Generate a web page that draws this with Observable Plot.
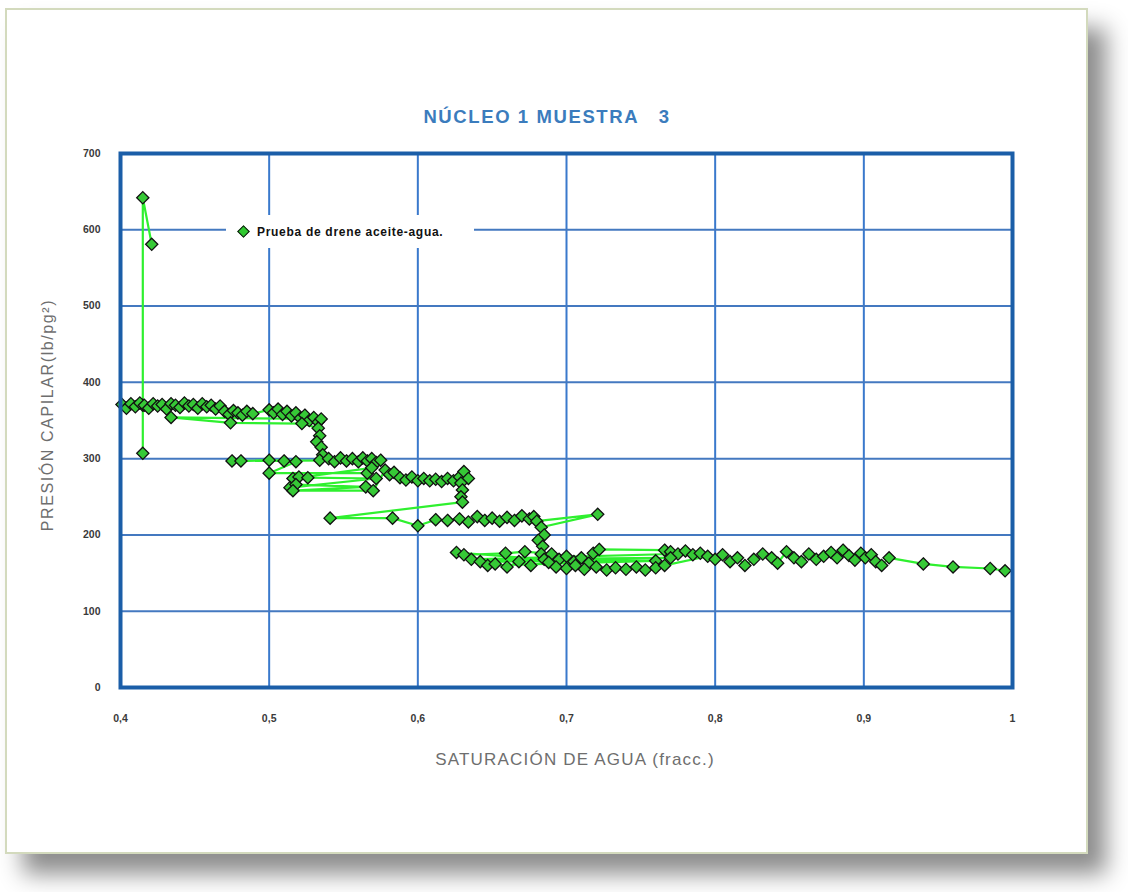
<!DOCTYPE html>
<html>
<head>
<meta charset="utf-8">
<script src="https://cdn.jsdelivr.net/npm/d3@7"></script>
<script src="https://cdn.jsdelivr.net/npm/@observablehq/plot@0.6"></script>
<style>
  html, body { margin:0; padding:0; background:#ffffff; }
  body { width:1128px; height:892px; position:relative; overflow:hidden; font-family:"Liberation Sans", Arial, sans-serif; }
  #card { position:absolute; left:5px; top:8px; width:1079px; height:842px; background:#fff;
          border:2px solid #d3dabd; box-shadow: 18px 20px 22px rgba(0,0,0,0.45); }
  #chart { position:absolute; left:0; top:0; }
  .title { position:absolute; left:0; width:1094px; top:106px; text-align:center; font-weight:bold;
           font-size:18.5px; color:#3b7cbd; letter-spacing:1.6px; white-space:pre; }
  .xlabel { position:absolute; left:0; width:1150px; top:750px; text-align:center; font-size:17px; color:#6e6e6e; letter-spacing:1.2px; }
  .ylabel { position:absolute; left:48px; top:415px; transform:translate(-50%,-50%) rotate(-90deg);
            font-size:16px; color:#6e6e6e; white-space:nowrap; letter-spacing:1.6px; }
  .legend { position:absolute; left:226px; top:215px; width:248px; height:33px; background:#fff;
            display:flex; align-items:center; font-size:12px; font-weight:bold; color:#111; letter-spacing:0.7px; white-space:nowrap; }
  .legend .sym { width:7px; height:7px; background:#2fc92f; border:1.4px solid #111; transform:rotate(45deg);
                 margin-left:13px; margin-right:9px; flex:none; }
</style>
</head>
<body>
<div id="card"></div>
<div id="chart"></div>
<div class="title">NÚCLEO 1 MUESTRA   3</div>
<div class="xlabel">SATURACIÓN DE AGUA (fracc.)</div>
<div class="ylabel">PRESIÓN CAPILAR(lb/pg²)</div>
<div class="legend"><span class="sym"></span>Prueba de drene aceite-agua.</div>
<script>
// Water saturation (fraction) in measurement order
const sw = [
  0.421, 0.415, 0.415, 0.415, 0.401,
  0.404, 0.407, 0.410, 0.413, 0.416, 0.419, 0.422, 0.425, 0.428, 0.431, 0.434, 0.437, 0.440, 0.443, 0.446, 0.449, 0.452, 0.455, 0.458, 0.461, 0.464, 0.467,
  0.470, 0.473, 0.476, 0.479, 0.482, 0.485, 0.489,
  0.500, 0.503, 0.506, 0.509, 0.512, 0.515, 0.518, 0.521, 0.524, 0.527, 0.530, 0.533, 0.535,
  0.434, 0.474, 0.522, 0.533, 0.534, 0.532, 0.535, 0.536, 0.534,
  0.540, 0.544, 0.548, 0.552, 0.556, 0.560, 0.563, 0.566, 0.569, 0.572, 0.575,
  0.475, 0.481, 0.500, 0.510, 0.518, 0.500, 0.566, 0.569, 0.516, 0.520, 0.526, 0.572, 0.514, 0.518, 0.565, 0.516, 0.570,
  0.578, 0.581, 0.584, 0.588, 0.592, 0.596, 0.600, 0.604, 0.608, 0.612, 0.616, 0.620, 0.624, 0.628, 0.631, 0.634, 0.629, 0.630, 0.629, 0.630,
  0.541, 0.583, 0.600, 0.612, 0.620, 0.628, 0.634, 0.640, 0.645, 0.650, 0.655, 0.660, 0.665, 0.670, 0.675, 0.678, 0.680, 0.721, 0.683, 0.685, 0.681, 0.684, 0.683, 0.685,
  0.626, 0.631, 0.659, 0.672, 0.690, 0.695, 0.700, 0.705, 0.710, 0.715, 0.718, 0.722, 0.766, 0.770, 0.775, 0.780, 0.785, 0.790,
  0.636, 0.770, 0.642, 0.760,
  0.647, 0.652, 0.660, 0.668, 0.676, 0.688, 0.693, 0.700, 0.706, 0.712, 0.720, 0.727, 0.733, 0.740, 0.747, 0.753, 0.760, 0.766,
  0.795, 0.800, 0.805, 0.810, 0.815, 0.820, 0.826, 0.832, 0.838, 0.842, 0.848, 0.853, 0.858, 0.863, 0.868, 0.873, 0.878, 0.882, 0.886, 0.890, 0.894, 0.898, 0.901, 0.905, 0.908, 0.912, 0.917,
  0.940, 0.960, 0.985, 0.995
];
// Capillary pressure (lb/pg²) in the same order
const pc = [
  581, 642, 307, 370, 371,
  366, 372, 368, 373, 370, 366, 372, 369, 371, 365, 372, 370, 367, 373, 369, 371, 366, 372, 368, 370, 365, 369,
  362, 358, 363, 360, 357, 362, 359,
  364, 360, 365, 358, 362, 356, 360, 353, 357, 350, 354, 348, 352,
  354, 347, 346, 340, 330, 322, 315, 305, 298,
  300, 296, 301, 297, 300, 296, 301, 297, 300, 295, 298,
  297, 297, 298, 297, 296, 281, 281, 288, 274, 276, 275, 274, 262, 266, 263, 258, 258,
  285, 279, 282, 275, 272, 276, 271, 274, 271, 273, 270, 274, 271, 276, 283, 274, 268, 259, 250, 243,
  222, 222, 212, 220, 219, 221, 217, 224, 219, 222, 218, 223, 219, 225, 221, 224, 218, 227, 210, 200, 193, 185, 175, 168,
  177, 174, 176, 178, 175, 168, 172, 165, 170, 163, 176, 181, 180, 178, 175, 179, 174, 176,
  168, 170, 165, 166,
  160, 162, 158, 165, 160, 164, 158, 156, 160, 155, 158, 154, 157, 155, 158, 154, 157, 160,
  172, 168, 174, 165, 170, 160, 168, 175, 170, 163, 178, 170, 165, 175, 168, 172, 177, 170, 180, 173, 167, 176, 170, 174, 165, 160, 170,
  162, 158, 156, 153
];
const xTicks = [0.4, 0.5, 0.6, 0.7, 0.8, 0.9, 1];
const yTicks = [0, 100, 200, 300, 400, 500, 600, 700];
const xGrid = [0.5, 0.6, 0.7, 0.8, 0.9];
const yGrid = [100, 200, 300, 400, 500, 600];

const data = sw.map((s, i) => ({ sw: s, pc: pc[i] }));
const fmt = d => d === 1 ? "1" : String(d).replace(".", ",");

const chart = Plot.plot({
  width: 1128,
  height: 892,
  marginLeft: 120,
  marginRight: 116,
  marginTop: 153,
  marginBottom: 205,
  style: { background: "transparent", fontFamily: "Liberation Sans, Arial, sans-serif", fontSize: "10.5px", fontWeight: "bold", color: "#3a3a3a" },
  x: { domain: [0.4, 1], ticks: xTicks, tickFormat: fmt, tickSize: 0, tickPadding: 27, label: null },
  y: { domain: [0, 700], ticks: yTicks, tickSize: 0, tickPadding: 20, label: null },
  marks: [
    Plot.gridX(xGrid, { stroke: "#3a79cc", strokeOpacity: 1, strokeWidth: 2 }),
    Plot.gridY(yGrid, { stroke: "#4479c0", strokeOpacity: 1, strokeWidth: 2 }),
    Plot.line(data, { x: "sw", y: "pc", stroke: "#2ff02f", strokeWidth: 2.2 }),
    Plot.dot(data, { x: "sw", y: "pc", symbol: "diamond2", r: 5.5, fill: "#36c936", stroke: "#111", strokeWidth: 1.3 }),
    Plot.frame({ stroke: "#1b5ea8", strokeWidth: 4 })
  ]
});
document.getElementById("chart").appendChild(chart);
</script>
</body>
</html>
